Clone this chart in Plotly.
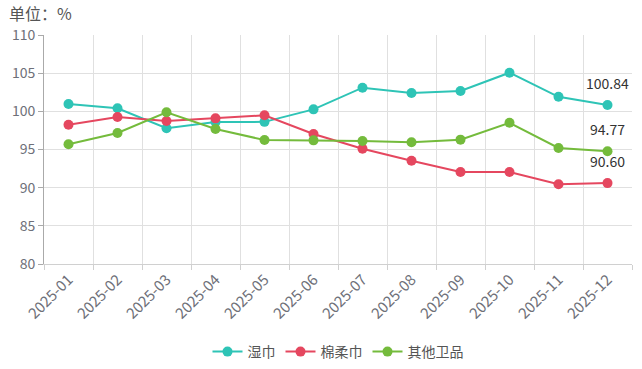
import plotly.graph_objects as go

months = ["2025-01","2025-02","2025-03","2025-04","2025-05","2025-06",
          "2025-07","2025-08","2025-09","2025-10","2025-11","2025-12"]
wet_wipes = [100.96, 100.40, 97.78, 98.60, 98.62, 100.26, 103.10, 102.40, 102.66, 105.06, 101.90, 100.84]
cotton = [98.25, 99.26, 98.73, 99.08, 99.48, 97.03, 95.10, 93.53, 92.05, 92.05, 90.44, 90.60]
others = [95.68, 97.16, 99.87, 97.68, 96.24, 96.20, 96.11, 95.94, 96.29, 98.50, 95.20, 94.77]
series_names = ["湿巾", "棉柔巾", "其他卫品"]
colors = ["#2EC4B6", "#E5475F", "#74BB3C"]

fig = go.Figure()
annotations = []
for name, vals, c in zip(series_names, [wet_wipes, cotton, others], colors):
    fig.add_trace(go.Scatter(
        x=months, y=vals, name=name, mode="lines+markers",
        line=dict(color=c, width=2), marker=dict(color=c, size=10),
        cliponaxis=False,
    ))
    annotations.append(dict(
        x=months[-1], y=vals[-1], xref="x", yref="y", text=f"{vals[-1]:.2f}",
        showarrow=False, yshift=22, font=dict(color="#333333", size=14),
    ))

font_family = "Noto Sans CJK SC, Microsoft YaHei, sans-serif"
L, R, T, B = 44, 10, 35, 105
W, H = 642, 369
pw, ph = W - L - R, H - T - B
annotations.append(dict(text="单位：%", xref="paper", yref="paper",
                        x=(8 - L) / pw, xanchor="left",
                        y=1 + (T - 13) / ph, yanchor="middle", borderpad=0,
                        showarrow=False, font=dict(size=16, color="#555555")))
fig.update_layout(
    width=W, height=H,
    margin=dict(l=L, r=R, t=T, b=B, autoexpand=False),
    paper_bgcolor="white", plot_bgcolor="white",
    font=dict(family=font_family, color="#6E7079", size=14),
    showlegend=True,
    legend=dict(orientation="h", x=0.5, xanchor="center",
                y=-(352 - T - ph) / ph, yanchor="middle",
                font=dict(size=14, color="#555555")),
    annotations=annotations,
)
fig.update_xaxes(
    type="category", tickson="boundaries", showgrid=True, gridcolor="#E0E0E0",
    showline=True, linecolor="#D0D0D0", ticks="outside", ticklen=5, tickcolor="#D0D0D0",
    tickangle=-45, tickfont=dict(size=15, color="#6E7079"),
    range=[-0.5, 11.5], automargin=False,
)
fig.update_yaxes(
    range=[80, 110], dtick=5, showgrid=True, gridcolor="#E0E0E0",
    showline=True, linecolor="#AAAAAA", ticks="outside", ticklen=5, tickcolor="#AAAAAA",
    tickfont=dict(size=14, color="#6E7079"), zeroline=False, automargin=False,
)
fig.write_html("out.html", post_script="document.body.style.margin='0';",
               config={"displayModeBar": False})
